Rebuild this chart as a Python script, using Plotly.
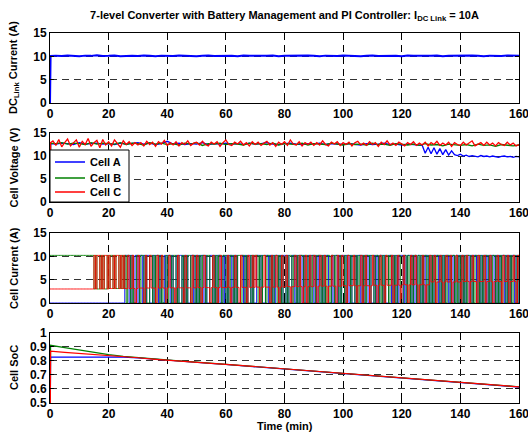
import plotly.graph_objects as go

# ---------------- data ----------------
x_ticks = [0, 20, 40, 60, 80, 100, 120, 140, 160]

# DC link current (A)
dc_t = [0, 0.2] + list(range(2, 161, 2))
dc_i = [0.0, 10.1,
        10.15, 10.05, 10.2, 10.1, 10.0, 10.15, 10.1, 10.25, 10.05, 10.1,
        10.2, 10.0, 10.1, 10.15, 10.05, 10.2, 10.1, 10.0, 10.15, 10.1,
        10.05, 10.2, 10.1, 10.15, 10.0, 10.1, 10.2, 10.05, 10.1, 10.15,
        10.1, 10.0, 10.2, 10.1, 10.05, 10.15, 10.1, 10.2, 10.0, 10.1,
        10.15, 10.05, 10.1, 10.2, 10.1, 10.0, 10.15, 10.1, 10.05, 10.2,
        10.1, 10.15, 10.0, 10.1, 10.2, 10.05, 10.1, 10.15, 10.1, 10.0,
        10.2, 10.1, 10.05, 10.15, 10.1, 10.2, 10.0, 10.1, 10.15, 10.05,
        10.1, 10.2, 10.1, 10.0, 10.15, 10.1, 10.05, 10.2, 10.1, 10.1]

# Cell voltages (V)
va_t = [0, 0.2] + list(range(2, 127, 2)) + list(range(127, 161))
va = [0.0, 12.7,
      12.6, 12.8, 12.7, 12.5, 12.9, 12.6, 12.7, 12.8, 12.6, 12.7,
      12.5, 12.8, 12.6, 12.7, 12.9, 12.6, 12.8, 12.5, 12.7, 13.2,
      12.6, 12.8, 12.5, 12.7, 12.6, 12.9, 12.5, 12.7, 12.6, 12.8,
      12.6, 12.7, 12.5, 12.8, 12.6, 12.7, 12.9, 12.6, 12.5, 12.7,
      12.8, 12.6, 12.5, 12.7, 12.6, 12.8, 12.5, 12.7, 12.6, 12.5,
      12.7, 12.6, 12.4, 12.7, 12.5, 12.6, 12.8, 12.5, 12.6, 12.4,
      12.6, 12.5, 12.4,
      12.3, 10.6, 11.9, 10.5, 11.8, 10.4, 11.6, 10.3, 11.4, 10.2,
      11.1, 10.3, 10.1, 10.4, 10.0, 10.2, 9.9, 10.1, 10.0, 9.8,
      10.1, 9.9, 10.0, 9.8, 10.0, 9.9, 9.7, 9.9, 10.0, 9.8,
      9.9, 9.7, 9.9, 9.8]
vb_t = [0, 0.2] + list(range(2, 161, 2))
vb = [0.0, 12.8,
      12.7, 12.9, 12.6, 12.8, 12.7, 12.5, 12.9, 12.6, 12.8, 12.7,
      12.6, 12.9, 12.5, 12.8, 12.7, 12.4, 12.9, 12.6, 12.8, 12.5,
      12.7, 12.4, 12.8, 12.6, 12.9, 12.3, 12.7, 12.6, 12.8, 12.5,
      12.7, 12.6, 12.4, 12.8, 12.6, 12.7, 12.5, 12.8, 12.4, 12.7,
      12.6, 12.5, 12.8, 12.4, 12.7, 12.6, 12.5, 12.8, 12.6, 12.4,
      12.7, 12.5, 12.6, 12.4, 12.8, 12.5, 12.6, 12.3, 12.7, 12.5,
      12.4, 12.6, 12.3, 12.7, 12.4, 12.5, 12.2, 12.6, 12.4, 12.3,
      12.5, 12.2, 12.6, 12.3, 12.4, 12.1, 12.5, 12.3, 12.2, 12.4]
vc_t = [0, 0.2] + list(range(1, 161))
vc = [0.0, 12.9,
      13.3, 12.3, 13.6, 12.0, 12.9, 13.7, 12.2, 12.8, 13.5, 11.9,
      13.2, 12.5, 13.8, 12.1, 12.9, 13.4, 11.8, 13.6, 12.4, 13.1,
      12.2, 13.5, 12.7, 11.9, 13.3, 12.5, 13.1, 12.3, 12.9, 12.4,
      12.9, 12.2, 13.2, 12.5, 13.0, 12.1, 13.1, 12.6, 13.4, 12.3,
      12.9, 12.4, 13.1, 12.2, 12.9, 12.5, 13.3, 12.3, 12.8, 13.0,
      12.4, 13.2, 12.5, 12.2, 13.0, 12.6, 13.1, 12.1, 12.9, 13.5,
      12.5, 12.3, 13.0, 12.6, 13.2, 12.4, 12.9, 12.2, 13.1, 12.5,
      13.0, 12.3, 12.8, 13.2, 12.4, 12.9, 12.1, 13.0, 12.5, 13.1,
      12.3, 13.5, 12.6, 12.4, 13.1, 12.2, 12.9, 12.5, 13.0, 12.3,
      12.9, 12.4, 13.3, 12.5, 12.2, 13.0, 12.6, 13.1, 12.3, 12.9,
      12.5, 13.0, 12.2, 12.9, 13.2, 12.4, 12.8, 12.3, 13.1, 12.5,
      12.9, 12.1, 13.0, 12.5, 13.3, 12.4, 12.8, 12.3, 13.0, 12.5,
      12.2, 12.9, 12.5, 13.1, 12.3, 12.8, 12.4, 13.0, 12.2, 12.9,
      12.5, 13.2, 12.3, 12.8, 12.4, 13.0, 12.1, 12.9, 12.5, 12.3,
      13.0, 12.4, 12.8, 13.3, 12.2, 12.5, 12.9, 12.3, 13.0, 12.4,
      12.8, 12.2, 12.9, 12.5, 12.3, 13.0, 12.4, 12.8, 12.2, 12.5]

# Cell currents: state per 0.5 min sample (0 = off, 1 = low level, 2 = full link current)
cur_step = 0.5
cur_high = 10.2
cur_low = [3.0, 3.0, 3.1, 3.2, 3.25, 3.3, 3.35, 3.4, 3.5, 3.6, 3.7, 3.8, 3.9, 4.5, 4.6, 4.6, 4.6]
ia_state = [
    0, 0, 0, 0, 0, 0, 0, 0, 0, 0, 0, 0, 0, 0, 0, 0, 0, 0, 0, 0,
    0, 0, 0, 0, 0, 0, 0, 0, 0, 0, 0, 0, 0, 0, 0, 0, 0, 0, 0, 0,
    0, 0, 0, 0, 0, 0, 0, 0, 0, 0, 0, 2, 2, 2, 0, 2, 0, 0, 2, 2,
    0, 2, 2, 0, 2, 0, 2, 2, 0, 0, 2, 0, 2, 2, 0, 2, 0, 0, 2, 0,
    2, 2, 0, 2, 0, 0, 2, 0, 2, 2, 0, 2, 0, 2, 0, 0, 2, 2, 0, 2,
    0, 2, 0, 2, 2, 0, 2, 0, 0, 2, 2, 0, 2, 0, 2, 2, 0, 0, 2, 0,
    2, 0, 2, 2, 0, 2, 0, 2, 0, 0, 2, 2, 0, 2, 0, 2, 2, 0, 2, 0,
    0, 2, 2, 0, 2, 0, 0, 2, 2, 0, 2, 0, 2, 0, 2, 2, 0, 2, 0, 2,
    2, 0, 2, 0, 0, 2, 2, 0, 2, 0, 2, 2, 0, 2, 0, 0, 2, 0, 2, 2,
    0, 2, 0, 2, 2, 0, 2, 0, 2, 2, 0, 0, 2, 0, 2, 2, 0, 2, 0, 2,
    2, 0, 2, 2, 0, 2, 0, 0, 2, 0, 2, 2, 0, 2, 0, 2, 2, 0, 2, 0,
    0, 2, 0, 2, 0, 2, 2, 0, 2, 0, 0, 2, 2, 0, 2, 0, 2, 0, 2, 2,
    2, 0, 2, 0, 2, 2, 0, 2, 0, 2, 0, 2, 2, 0, 2, 0, 2, 2, 0, 2,
    0, 2, 0, 2, 2, 0, 2, 0, 2, 0, 2, 2, 0, 2, 0, 2, 0, 2, 2, 0,
    2, 0, 2, 0, 2, 2, 0, 2, 0, 2, 2, 0, 2, 0, 2, 0, 2, 2, 0, 2,
    0, 2, 2, 0, 2, 0, 2, 0, 2, 2, 0, 2, 0, 2, 0, 2, 2, 0, 2, 0,
    2]
ib_state = [
    2, 2, 2, 2, 2, 2, 2, 2, 2, 2, 2, 2, 2, 2, 2, 2, 2, 2, 2, 2,
    2, 2, 2, 2, 2, 2, 2, 2, 2, 2, 1, 2, 1, 1, 2, 1, 2, 1, 1, 2,
    1, 2, 2, 1, 2, 1, 1, 2, 1, 2, 1, 2, 0, 2, 2, 0, 2, 0, 0, 2,
    2, 0, 2, 2, 0, 2, 0, 0, 2, 2, 0, 2, 0, 2, 2, 0, 2, 0, 0, 2,
    0, 2, 2, 0, 2, 2, 0, 2, 0, 0, 2, 0, 2, 0, 2, 2, 0, 2, 2, 0,
    2, 0, 2, 0, 2, 2, 0, 2, 2, 0, 0, 2, 0, 2, 0, 2, 2, 0, 2, 2,
    0, 2, 0, 2, 2, 0, 2, 0, 2, 2, 0, 2, 2, 0, 2, 0, 0, 2, 0, 2,
    2, 2, 0, 2, 0, 2, 2, 0, 2, 2, 0, 2, 0, 2, 2, 0, 2, 0, 2, 0,
    0, 2, 0, 2, 2, 0, 2, 2, 0, 2, 0, 2, 2, 0, 2, 2, 0, 2, 0, 2,
    2, 0, 2, 2, 0, 2, 0, 2, 0, 2, 2, 0, 2, 2, 0, 2, 2, 0, 2, 0,
    0, 2, 0, 2, 2, 0, 2, 2, 0, 2, 0, 2, 2, 0, 2, 0, 2, 2, 0, 2,
    2, 0, 2, 2, 0, 2, 0, 2, 0, 2, 2, 0, 2, 2, 0, 2, 0, 2, 2, 0,
    0, 2, 2, 0, 2, 0, 2, 0, 2, 2, 0, 2, 0, 2, 0, 2, 2, 0, 2, 0,
    2, 0, 2, 0, 2, 2, 0, 2, 0, 2, 0, 2, 2, 0, 2, 2, 0, 2, 0, 2,
    0, 2, 0, 2, 0, 2, 2, 0, 2, 0, 2, 2, 0, 2, 0, 2, 0, 2, 2, 0,
    2, 0, 2, 2, 0, 2, 0, 2, 0, 2, 2, 0, 2, 0, 2, 0, 2, 2, 0, 2,
    0]
ic_state = [
    1, 1, 1, 1, 1, 1, 1, 1, 1, 1, 1, 1, 1, 1, 1, 1, 1, 1, 1, 1,
    1, 1, 1, 1, 1, 1, 1, 1, 1, 1, 2, 1, 2, 2, 1, 2, 1, 2, 2, 1,
    2, 1, 1, 2, 1, 2, 2, 1, 2, 1, 2, 1, 1, 2, 1, 1, 2, 1, 0, 1,
    2, 1, 1, 1, 0, 2, 1, 1, 2, 1, 1, 1, 0, 2, 1, 1, 2, 1, 1, 0,
    1, 2, 1, 1, 1, 0, 1, 2, 1, 1, 1, 0, 2, 1, 1, 1, 0, 2, 1, 1,
    2, 1, 1, 0, 1, 2, 1, 1, 1, 0, 1, 2, 1, 1, 0, 1, 2, 1, 1, 1,
    1, 2, 1, 0, 1, 1, 2, 1, 1, 0, 2, 1, 1, 1, 0, 2, 1, 1, 2, 1,
    2, 1, 1, 0, 1, 1, 2, 1, 1, 1, 0, 2, 1, 1, 2, 1, 0, 1, 2, 1,
    1, 2, 1, 1, 0, 1, 1, 2, 1, 1, 2, 1, 0, 1, 2, 0, 1, 2, 1, 1,
    2, 1, 0, 1, 2, 1, 1, 2, 1, 0, 1, 1, 2, 1, 1, 0, 2, 1, 1, 2,
    1, 1, 0, 2, 1, 1, 1, 2, 1, 0, 1, 1, 2, 0, 1, 2, 1, 1, 0, 1,
    2, 1, 1, 0, 1, 2, 1, 1, 0, 2, 1, 1, 1, 2, 0, 1, 1, 2, 1, 0,
    1, 2, 1, 1, 0, 1, 2, 1, 1, 2, 1, 0, 1, 1, 2, 1, 0, 1, 1, 2,
    1, 1, 2, 0, 1, 1, 2, 1, 0, 1, 2, 1, 1, 2, 0, 1, 1, 2, 1, 1,
    0, 2, 1, 1, 2, 1, 0, 1, 2, 1, 1, 0, 2, 1, 1, 1, 2, 0, 1, 1,
    2, 1, 0, 1, 1, 2, 1, 1, 0, 2, 1, 1, 2, 0, 1, 1, 2, 1, 0, 2,
    1]

# Cell state of charge
soc_t = [0, 0.2] + list(range(5, 161, 5))
soc_a = [0.0, 0.828, 0.828, 0.828, 0.828, 0.828, 0.827, 0.822, 0.813, 0.804,
         0.797, 0.790, 0.782, 0.775, 0.767, 0.759, 0.752, 0.744, 0.737, 0.730,
         0.722, 0.715, 0.706, 0.697, 0.688, 0.679, 0.671, 0.663, 0.655, 0.647,
         0.639, 0.630, 0.622, 0.614]
soc_b = [0.0, 0.912, 0.895, 0.878, 0.862, 0.846, 0.834, 0.824, 0.815, 0.806,
         0.799, 0.792, 0.784, 0.777, 0.769, 0.761, 0.754, 0.746, 0.739, 0.732,
         0.724, 0.717, 0.708, 0.699, 0.690, 0.681, 0.673, 0.665, 0.657, 0.649,
         0.641, 0.632, 0.624, 0.616]
soc_c = [0.0, 0.870, 0.862, 0.855, 0.848, 0.840, 0.832, 0.823, 0.814, 0.805,
         0.798, 0.791, 0.783, 0.776, 0.768, 0.760, 0.753, 0.745, 0.738, 0.731,
         0.723, 0.716, 0.707, 0.698, 0.689, 0.680, 0.672, 0.664, 0.656, 0.648,
         0.640, 0.631, 0.623, 0.615]

assert len(dc_t) == len(dc_i)
assert len(va_t) == len(va) and len(vb_t) == len(vb) and len(vc_t) == len(vc)
assert len(ia_state) == len(ib_state) == len(ic_state) == 321
assert len(soc_t) == len(soc_a) == len(soc_b) == len(soc_c)

cur_t = [k * cur_step for k in range(len(ia_state))]


def state_to_current(states):
    out = []
    for t, s in zip(cur_t, states):
        low = cur_low[min(int(t // 10), len(cur_low) - 1)]
        out.append((0.0, low, cur_high)[s])
    return out


ia = state_to_current(ia_state)
ib = state_to_current(ib_state)
ic = state_to_current(ic_state)

# ---------------- style ----------------
BLUE, GREEN, RED = "#0000FF", "#008000", "#FF0000"
FONT = "Liberation Sans, Arial, Helvetica, sans-serif"
PLOT_H = 370.0  # plot-area height in px (435 - 33 - 32)
PLOT_W = 469.0  # plot-area width in px (528 - 50 - 9)

fig = go.Figure()

fig.add_trace(go.Scatter(x=dc_t, y=dc_i, mode="lines", line=dict(color=BLUE, width=2),
                         showlegend=False, xaxis="x", yaxis="y"))

for t, v, c, name, lg in [(va_t, va, BLUE, "Cell A", "legend"), (vb_t, vb, GREEN, "Cell B", "legend2"),
                          (vc_t, vc, RED, "Cell C", "legend3")]:
    fig.add_trace(go.Scatter(x=t, y=v, mode="lines", name=name, line=dict(color=c, width=1.3),
                             showlegend=True, legend=lg, xaxis="x2", yaxis="y2"))

for v, c in [(ia, BLUE), (ib, GREEN), (ic, RED)]:
    fig.add_trace(go.Scatter(x=cur_t, y=v, mode="lines", line=dict(color=c, width=0.9, shape="hv"),
                             showlegend=False, xaxis="x3", yaxis="y3"))

for v, c in [(soc_a, BLUE), (soc_b, GREEN), (soc_c, RED)]:
    fig.add_trace(go.Scatter(x=soc_t, y=v, mode="lines", line=dict(color=c, width=1.2),
                             showlegend=False, xaxis="x4", yaxis="y4"))

tickfont = dict(family=FONT, size=12, color="black", weight="bold")
domains = [[0.8108, 1.0], [0.5432, 0.7297], [0.2703, 0.4595], [0.0, 0.1892]]


def xaxis(anchor):
    return dict(domain=[0, 1], anchor=anchor, range=[0, 160], tickvals=x_ticks,
                showgrid=True, gridcolor="black", gridwidth=1, griddash="7px,5px",
                showline=True, linecolor="black", linewidth=1, mirror="ticks",
                ticks="inside", ticklen=4, tickcolor="black", zeroline=False,
                tickfont=tickfont, ticklabeloverflow="allow", automargin=False)


def yaxis(anchor, dom, rng, vals, texts):
    return dict(domain=dom, anchor=anchor, range=rng, tickvals=vals, ticktext=texts,
                showgrid=True, gridcolor="#333333", gridwidth=1, griddash="7px,5px",
                showline=True, linecolor="black", linewidth=1, mirror="ticks",
                ticks="inside", ticklen=4, tickcolor="black", zeroline=False,
                tickfont=tickfont, ticklabeloverflow="allow", automargin=False)


def legend_at(px_from_bottom):
    return dict(x=0.0, y=px_from_bottom / PLOT_H, xanchor="left", yanchor="middle",
                bgcolor="rgba(0,0,0,0)", borderwidth=0, itemwidth=30,
                font=dict(family=FONT, size=11, color="black", weight="bold"))


cur_ticks = [0, 5, 10, 15]
cur_text = ["0", "5", "10", "15"]
soc_ticks = [0.5, 0.6, 0.7, 0.8, 0.9, 1.0]
soc_text = ["0.5", "0.6", "0.7", "0.8", "0.9", "1"]

fig.update_layout(
    width=528, height=435,
    margin=dict(l=50, r=9, t=33, b=32, autoexpand=False),
    paper_bgcolor="white", plot_bgcolor="white",
    font=dict(family=FONT, size=11, color="black"),
    xaxis=xaxis("y"), yaxis=yaxis("x", domains[0], [0, 15], cur_ticks, cur_text),
    xaxis2=xaxis("y2"), yaxis2=yaxis("x2", domains[1], [0, 15], cur_ticks, cur_text),
    xaxis3=xaxis("y3"), yaxis3=yaxis("x3", domains[2], [0, 15], cur_ticks, cur_text),
    xaxis4=xaxis("y4"), yaxis4=yaxis("x4", domains[3], [0.5, 1.0], soc_ticks, soc_text),
    legend=legend_at(403 - 162),
    legend2=legend_at(403 - 178),
    legend3=legend_at(403 - 192),
    title=dict(text="<b>7-level Converter with Battery Management and PI Controller: I<sub>DC Link</sub> = 10A</b>",
               x=0.5, xref="paper", xanchor="center", y=1 - 15 / 435, yanchor="middle",
               font=dict(family=FONT, size=11, color="black")),
    showlegend=True,
)

# legend frame (white box with black border behind the three legend entries)
fig.add_shape(type="rect", xref="paper", yref="paper", layer="above",
              x0=0.0, x1=79 / PLOT_W, y0=(403 - 202) / PLOT_H, y1=(403 - 150) / PLOT_H,
              fillcolor="white", line=dict(color="black", width=1))

ytitles = ["<b>DC<sub>Link</sub> Current (A)</b>", "<b>Cell Voltage (V)</b>",
           "<b>Cell Current (A)</b>", "<b>Cell SoC</b>"]
for txt, dom in zip(ytitles, domains):
    fig.add_annotation(text=txt, xref="paper", yref="paper", x=-36 / PLOT_W, y=(dom[0] + dom[1]) / 2,
                       xanchor="center", yanchor="middle", textangle=-90, showarrow=False,
                       font=dict(family=FONT, size=11, color="black"))

fig.add_annotation(text="<b>Time (min)</b>", xref="paper", yref="paper", x=0.5, y=-23 / PLOT_H,
                   xanchor="center", yanchor="middle", showarrow=False,
                   font=dict(family=FONT, size=11, color="black"))

fig.write_html("out.html", config={"displayModeBar": False},
               post_script="document.body.style.margin='0px';document.body.style.padding='0px';"
                           "document.body.style.overflow='hidden';")
